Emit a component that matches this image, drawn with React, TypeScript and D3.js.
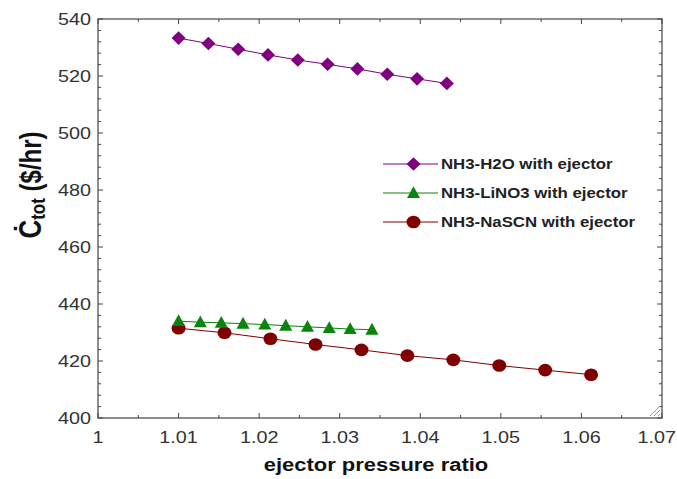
import React from "react";
import * as d3 from "d3";

// Ejector pressure ratio (x) and total cost rate (y, $/hr) for each working pair
const h2oX = [1.01, 1.0137, 1.0174, 1.0211, 1.0248, 1.0285, 1.0322, 1.0359, 1.0396, 1.0433];
const h2oY = [533.3, 531.4, 529.4, 527.4, 525.6, 524.1, 522.5, 520.6, 519.0, 517.4];

const lino3X = [1.01, 1.0127, 1.0153, 1.018, 1.0207, 1.0233, 1.026, 1.0287, 1.0313, 1.034];
const lino3Y = [434.0, 433.6, 433.4, 433.1, 432.8, 432.4, 432.0, 431.6, 431.2, 431.0];

const nascnX = [1.01, 1.0157, 1.0214, 1.027, 1.0327, 1.0384, 1.0441, 1.0498, 1.0555, 1.0612];
const nascnY = [431.5, 429.9, 427.8, 425.8, 423.9, 421.9, 420.4, 418.4, 416.8, 415.2];

const xTicks = [1, 1.01, 1.02, 1.03, 1.04, 1.05, 1.06, 1.07];
const yTicks = [400, 420, 440, 460, 480, 500, 520, 540];

const legendLabels = [
  "NH3-H2O with ejector",
  "NH3-LiNO3 with ejector",
  "NH3-NaSCN with ejector",
];

const PURPLE = "#800080";
const GREEN = "#0a840a";
const MAROON = "#800000";
const AXIS = "#444";
const FONT = "'Liberation Sans', Arial, sans-serif";
const SX = 1.2; // horizontal text stretch

const W = 677;
const H = 479;
const left = 98;
const right = 662;
const top = 19;
const bottom = 418;

function Diamond({ x, y, fill }: { x: number; y: number; fill: string }) {
  return <path d={`M${x},${y - 6.8} L${x + 7},${y} L${x},${y + 6.8} L${x - 7},${y} Z`} fill={fill} />;
}
function Triangle({ x, y, fill }: { x: number; y: number; fill: string }) {
  return <path d={`M${x},${y - 6.8} L${x + 6.5},${y + 5} L${x - 6.5},${y + 5} Z`} fill={fill} />;
}
function Dot({ x, y, fill }: { x: number; y: number; fill: string }) {
  return <ellipse cx={x} cy={y} rx={7} ry={6.3} fill={fill} />;
}

function T({ x, y, children, anchor = "start", size, weight = "normal", fill = "#333" }: any) {
  return (
    <text
      transform={`translate(${x},${y}) scale(${SX},1)`}
      textAnchor={anchor}
      fontSize={size}
      fontWeight={weight}
      fontFamily={FONT}
      fill={fill}
    >
      {children}
    </text>
  );
}

export default function App() {
  const x = d3.scaleLinear().domain([1, 1.07]).range([left, right]);
  const y = d3.scaleLinear().domain([400, 540]).range([bottom, top]);

  const line = d3
    .line<[number, number]>()
    .x((d) => x(d[0]))
    .y((d) => y(d[1]));

  const zip = (a: number[], b: number[]) => a.map((v, i) => [v, b[i]] as [number, number]);
  const h2o = zip(h2oX, h2oY);
  const lino3 = zip(lino3X, lino3Y);
  const nascn = zip(nascnX, nascnY);

  const xMinor = d3.range(0, 15).map((i) => 1 + i * 0.005);
  const yMinor = d3.range(0, 36).map((i) => 400 + i * 4);

  const legendX0 = 383;
  const legendX1 = 438;
  const legendRows = [164, 193, 222];

  return (
    <svg width={W} height={H} style={{ position: "absolute", left: 0, top: 0, background: "#fff" }}>
      <rect x={0} y={0} width={W} height={H} fill="#fff" />

      {/* minor & major ticks, pointing inward on all four sides */}
      <g stroke={AXIS} strokeWidth={1}>
        {xMinor.map((v, i) => {
          const len = i % 2 === 0 ? 5 : 3;
          const px = x(v);
          return (
            <g key={"xt" + i}>
              <line x1={px} x2={px} y1={bottom} y2={bottom - len} />
              <line x1={px} x2={px} y1={top} y2={top + len} />
            </g>
          );
        })}
        {yMinor.map((v, i) => {
          const len = i % 5 === 0 ? 5 : 3;
          const py = y(v);
          return (
            <g key={"yt" + i}>
              <line x1={left} x2={left + len} y1={py} y2={py} />
              <line x1={right} x2={right - len} y1={py} y2={py} />
            </g>
          );
        })}
      </g>
      <rect x={left} y={top} width={right - left} height={bottom - top} fill="none" stroke={AXIS} strokeWidth={1.2} />

      {/* corner grip */}
      <g stroke="#999" strokeWidth={1}>
        {[0, 4, 8].map((o) => (
          <line key={o} x1={right - 4 - o} y1={bottom - 2} x2={right - 2} y2={bottom - 4 - o} />
        ))}
      </g>

      {/* tick labels */}
      {xTicks.map((v) => {
        const last = v === 1.07;
        return (
          <T key={"xl" + v} x={last ? W - 1 : x(v)} y={443} anchor={last ? "end" : "middle"} size={16.5}>
            {v === 1 ? "1" : d3.format(".2f")(v)}
          </T>
        );
      })}
      {yTicks.map((v) => (
        <T key={"yl" + v} x={91} y={y(v) + 6} anchor="end" size={16.5}>
          {String(v)}
        </T>
      ))}

      {/* axis titles */}
      <T x={(left + right) / 2 - 4} y={471} anchor="middle" size={18.3} weight="bold" fill="#111">
        ejector pressure ratio
      </T>
      <g transform={`translate(41,185) scale(${SX},1) rotate(-90)`}>
        <text textAnchor="middle" fontFamily={FONT} fontWeight="bold" fontSize={24} fill="#111">
          <tspan fontSize={26}>Ċ</tspan>
          <tspan fontSize={17} dy={3}>tot</tspan>
          <tspan dy={-3}> ($/hr)</tspan>
        </text>
      </g>

      {/* series */}
      <path d={line(h2o) || ""} fill="none" stroke={PURPLE} strokeWidth={1} />
      {h2o.map((d, i) => (
        <Diamond key={"h" + i} x={x(d[0])} y={y(d[1])} fill={PURPLE} />
      ))}

      <path d={line(nascn) || ""} fill="none" stroke={MAROON} strokeWidth={1} />
      {nascn.map((d, i) => (
        <Dot key={"n" + i} x={x(d[0])} y={y(d[1])} fill={MAROON} />
      ))}

      <path d={line(lino3) || ""} fill="none" stroke={GREEN} strokeWidth={1} />
      {lino3.map((d, i) => (
        <Triangle key={"l" + i} x={x(d[0])} y={y(d[1])} fill={GREEN} />
      ))}

      {/* legend */}
      {legendLabels.map((label, i) => {
        const cy = legendRows[i];
        const color = [PURPLE, GREEN, MAROON][i];
        const mx = (legendX0 + legendX1) / 2 + 3;
        return (
          <g key={label}>
            <line x1={legendX0} x2={legendX1} y1={cy} y2={cy} stroke={color} strokeWidth={1} />
            {i === 0 && <Diamond x={mx} y={cy} fill={color} />}
            {i === 1 && <Triangle x={mx} y={cy} fill={color} />}
            {i === 2 && <Dot x={mx} y={cy} fill={color} />}
            <T x={441} y={cy + 5} size={14} weight="bold" fill="#222">
              {label}
            </T>
          </g>
        );
      })}
    </svg>
  );
}
